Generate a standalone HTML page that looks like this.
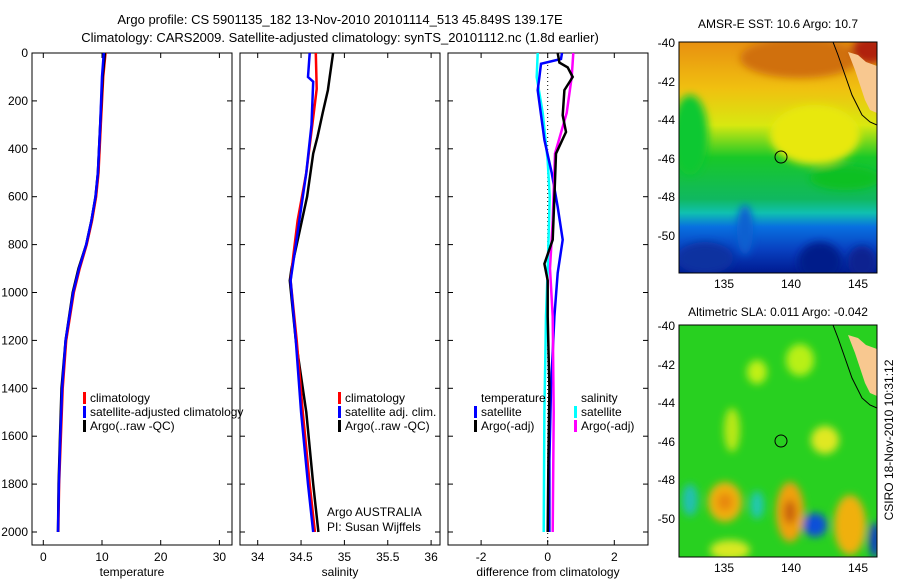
<!DOCTYPE html>
<html><head><meta charset="utf-8"><style>
body{margin:0;background:#fff;}
svg{display:block;font-family:"Liberation Sans",sans-serif;}
text{fill:#000;}
</style></head><body>
<svg id="c" width="900" height="580" viewBox="0 0 900 580">
<defs>
<linearGradient id="sstg" x1="0" y1="0" x2="0" y2="1">
<stop offset="0" stop-color="#e89010"/><stop offset="0.2" stop-color="#f0c010"/><stop offset="0.36" stop-color="#d8e810"/>
<stop offset="0.5" stop-color="#18c828"/><stop offset="0.68" stop-color="#10b860"/><stop offset="0.74" stop-color="#10c0b0"/>
<stop offset="0.8" stop-color="#0870e0"/><stop offset="0.9" stop-color="#0840c0"/><stop offset="1" stop-color="#001a90"/></linearGradient>
<filter id="bl"><feGaussianBlur stdDeviation="4"/></filter>
<clipPath id="m1"><rect x="679" y="42" width="198" height="231"/></clipPath>
<clipPath id="m2"><rect x="679" y="325" width="198" height="232"/></clipPath>
</defs>
<text x="340" y="24" font-size="13" text-anchor="middle">Argo profile: CS 5901135_182 13-Nov-2010 20101114_513 45.849S 139.17E</text>
<text x="340" y="42" font-size="13" text-anchor="middle">Climatology: CARS2009. Satellite-adjusted climatology: synTS_20101112.nc (1.8d earlier)</text>
<g id="plots"></g>
<g>
<text x="778" y="28" font-size="12" text-anchor="middle">AMSR-E SST: 10.6 Argo: 10.7</text>
<g clip-path="url(#m1)">
<rect x="679" y="42" width="198" height="231" fill="url(#sstg)"/>
<g filter="url(#bl)">
<ellipse cx="800" cy="58" rx="60" ry="20" fill="#d07008"/>
<ellipse cx="870" cy="50" rx="18" ry="14" fill="#b02008"/>
<ellipse cx="815" cy="135" rx="45" ry="30" fill="#e8e810"/>
<ellipse cx="690" cy="135" rx="18" ry="40" fill="#10c830"/>
<ellipse cx="845" cy="178" rx="35" ry="12" fill="#10c020"/>
<ellipse cx="745" cy="230" rx="8" ry="25" fill="#0a60d0"/>
<ellipse cx="820" cy="262" rx="22" ry="20" fill="#001a8a"/>
<ellipse cx="705" cy="258" rx="28" ry="16" fill="#0a30a0"/>
<ellipse cx="862" cy="262" rx="14" ry="16" fill="#0a2090"/>
</g>
<polygon points="848,52 858,55 866,62 877,66 877,113 870,110 865,100 860,85 855,70" fill="#f8c890"/>
<polyline points="833,42 838,55 845,75 852,95 862,115 870,122 877,125" fill="none" stroke="#000" stroke-width="1"/>
<circle cx="781" cy="157" r="6" fill="none" stroke="#000" stroke-width="1"/>
</g>
<rect x="679" y="42" width="198" height="231" fill="none" stroke="#000"/>
<g font-size="12" text-anchor="end">
<text x="675" y="47">-40</text><text x="675" y="86">-42</text><text x="675" y="124">-44</text><text x="675" y="163">-46</text><text x="675" y="201">-48</text><text x="675" y="240">-50</text>
</g>
<g font-size="12" text-anchor="middle"><text x="724" y="288">135</text><text x="791" y="288">140</text><text x="858" y="288">145</text></g>
</g>
<g>
<text x="778" y="316" font-size="12" text-anchor="middle">Altimetric SLA: 0.011 Argo: -0.042</text>
<g clip-path="url(#m2)">
<rect x="679" y="325" width="198" height="232" fill="#28d020"/>
<g filter="url(#bl)">
<ellipse cx="757" cy="372" rx="10" ry="12" fill="#c0f018"/>
<ellipse cx="800" cy="360" rx="14" ry="16" fill="#b8f018"/>
<ellipse cx="732" cy="430" rx="8" ry="22" fill="#b8e818"/>
<ellipse cx="825" cy="440" rx="14" ry="14" fill="#e0e820"/>
<ellipse cx="725" cy="502" rx="17" ry="20" fill="#f0b010"/>
<ellipse cx="725" cy="502" rx="8" ry="9" fill="#e88808"/>
<ellipse cx="790" cy="512" rx="14" ry="30" fill="#f0a010"/>
<ellipse cx="790" cy="512" rx="6" ry="12" fill="#c86008"/>
<ellipse cx="815" cy="525" rx="12" ry="12" fill="#0a50d8"/>
<ellipse cx="850" cy="525" rx="16" ry="30" fill="#f0b010"/>
<ellipse cx="690" cy="500" rx="8" ry="16" fill="#20c0b0"/>
<ellipse cx="757" cy="505" rx="7" ry="14" fill="#20c8b0"/>
<ellipse cx="875" cy="540" rx="6" ry="18" fill="#0a40c0"/>
<ellipse cx="730" cy="550" rx="20" ry="10" fill="#d8e820"/>
</g>
<polygon points="848,335 858,338 866,345 877,349 877,396 870,393 865,383 860,368 855,353" fill="#f8c890"/>
<polyline points="833,325 838,338 845,358 852,378 862,398 870,405 877,408" fill="none" stroke="#000" stroke-width="1"/>
<circle cx="781" cy="441" r="6" fill="none" stroke="#000" stroke-width="1"/>
</g>
<rect x="679" y="325" width="198" height="232" fill="none" stroke="#000"/>
<g font-size="12" text-anchor="end">
<text x="675" y="330">-40</text><text x="675" y="369">-42</text><text x="675" y="407">-44</text><text x="675" y="446">-46</text><text x="675" y="484">-48</text><text x="675" y="523">-50</text>
</g>
<g font-size="12" text-anchor="middle"><text x="724" y="572">135</text><text x="791" y="572">140</text><text x="858" y="572">145</text></g>
</g>
<text transform="translate(893,440) rotate(-90)" font-size="12" text-anchor="middle">CSIRO 18-Nov-2010 10:31:12</text>
</svg>
<script>
const tDepth = [0,100,300,500,600,700,800,900,1000,1200,1400,1600,1800,2000];
const tClim  = [10.6,10.2,9.8,9.4,9.0,8.3,7.4,6.2,5.2,3.9,3.3,3.0,2.7,2.55];
const tSat   = [10.3,10.0,9.7,9.3,8.9,8.2,7.3,6.1,5.1,3.8,3.2,2.9,2.65,2.5];
const tArgo  = [10.5,10.1,9.7,9.3,8.9,8.2,7.3,6.0,5.0,3.8,3.1,2.85,2.6,2.5];
const sClimD = [0,150,300,500,700,850,950,1200,1500,1800,2000];
const sClim  = [34.67,34.68,34.63,34.56,34.46,34.41,34.38,34.45,34.52,34.60,34.66];
const sArgoD = [0,100,155,250,350,420,600,800,900,950,1200,1500,1800,2000];
const sArgo  = [34.87,34.83,34.81,34.75,34.69,34.64,34.57,34.45,34.39,34.37,34.44,34.56,34.64,34.70];
const sSatD  = [0,100,120,300,500,700,850,950,1200,1500,1800,2000];
const sSat   = [34.60,34.58,34.64,34.62,34.56,34.48,34.42,34.38,34.44,34.50,34.58,34.64];
const dTSatD = [0,25,45,100,155,363,500,643,780,918,1100,1400,1700,2000];
const dTSat  = [0.43,0.4,-0.2,-0.25,-0.3,-0.1,0.12,0.3,0.45,0.3,0.2,0.1,0.05,0.05];
const dTArgoD= [0,40,60,100,155,260,330,420,600,780,880,950,1100,1400,1700,2000];
const dTArgo = [0.3,0.35,0.6,0.75,0.5,0.45,0.55,0.25,0.2,0.15,-0.1,0.0,0.0,0.05,0.02,0.0];
const dSArgoD= [0,100,250,420,700,900,1100,1500,2000];
const dSArgo = [0.77,0.72,0.57,0.22,0.15,0.07,0.15,0.18,0.15];
const dSSatD = [0,100,250,450,600,900,1100,1500,2000];
const dSSat  = [-0.3,-0.33,-0.15,0.0,0.06,0.0,-0.05,-0.1,-0.12];
const depthTicks = [0,200,400,600,800,1000,1200,1400,1600,1800,2000];
const tTicks = [0,10,20,30];
const sTicks = [34,34.5,35,35.5,36];
const sTickLabels = ["34","34.5","35","35.5","36"];
const dTicks = [-2,0,2];

const NS='http://www.w3.org/2000/svg';
const g=document.getElementById('plots');
const Y=d=>53+d*0.2395;
function el(t,a,p){const e=document.createElementNS(NS,t);for(const k in a)e.setAttribute(k,a[k]);(p||g).appendChild(e);return e;}
const panels=[
 {x:32,name:'temperature-panel',X:v=>43.3+v*5.87,ticks:tTicks,labels:tTicks.map(String),xl:'temperature'},
 {x:240,name:'salinity-panel',X:v=>257.7+(v-34)*86.7,ticks:sTicks,labels:sTickLabels,xl:'salinity'},
 {x:448,name:'difference-panel',X:v=>547.7+v*33.3,ticks:dTicks,labels:dTicks.map(String),xl:'difference from climatology'}
];
panels.forEach((p,i)=>{
 const r=el('rect',{x:p.x,y:53,width:200,height:492,fill:'none',stroke:'#000'});
 
 
 depthTicks.forEach(d=>{
  el('line',{x1:p.x,x2:p.x+5,y1:Y(d),y2:Y(d),stroke:'#000'});
  el('line',{x1:p.x+200,x2:p.x+195,y1:Y(d),y2:Y(d),stroke:'#000'});
  if(i===0){const t=el('text',{x:28,y:Y(d)+4,'font-size':12,'text-anchor':'end'});t.textContent=d;
   
   }
 });
 p.ticks.forEach((v,j)=>{
  const x=p.X(v);
  el('line',{x1:x,x2:x,y1:545,y2:540,stroke:'#000'});
  el('line',{x1:x,x2:x,y1:53,y2:58,stroke:'#000'});
  const t=el('text',{x:x,y:561,'font-size':12,'text-anchor':'middle'});t.textContent=p.labels[j];
  
  
 });
 const xl=el('text',{x:p.x+100,y:576,'font-size':12,'text-anchor':'middle'});xl.textContent=p.xl;
 
 
});
function line(p,ds,vs,col,name){
 const pts=ds.map((d,k)=>p.X(vs[k]).toFixed(1)+','+Y(d).toFixed(1)).join(' ');
 const e=el('polyline',{points:pts,fill:'none',stroke:col,'stroke-width':2.5});
 
 
}
const P=panels;
line(P[0],tDepth,tClim,'#f00','temp-climatology-line');
line(P[0],tDepth,tArgo,'#000','temp-argo-line');
line(P[0],tDepth,tSat,'#00f','temp-satellite-line');
line(P[1],sArgoD,sArgo,'#000','sal-argo-line');
line(P[1],sClimD,sClim,'#f00','sal-climatology-line');
line(P[1],sSatD,sSat,'#00f','sal-satellite-line');
const z=el('line',{x1:P[2].X(0),x2:P[2].X(0),y1:53,y2:545,stroke:'#000','stroke-dasharray':'1,3'});


line(P[2],dSSatD,dSSat,'#0ff','diff-sal-satellite-line');
line(P[2],dTSatD,dTSat,'#00f','diff-temp-satellite-line');
line(P[2],dSArgoD,dSArgo,'#f0f','diff-sal-argo-line');
line(P[2],dTArgoD,dTArgo,'#000','diff-temp-argo-line');
function leg(x,y,col,txt){
 if(col){el('rect',{x:x-7,y:y-10,width:3,height:12,fill:col});}
 const t=el('text',{x:x,y:y,'font-size':12});t.textContent=txt;
 
 
}
leg(90,402,'#f00','climatology');leg(90,416,'#00f','satellite-adjusted climatology');leg(90,430,'#000','Argo(..raw -QC)');
leg(345,402,'#f00','climatology');leg(345,416,'#00f','satellite adj. clim.');leg(345,430,'#000','Argo(..raw -QC)');
leg(481,402,null,'temperature');leg(481,416,'#00f','satellite');leg(481,430,'#000','Argo(-adj)');
leg(581,402,null,'salinity');leg(581,416,'#0ff','satellite');leg(581,430,'#f0f','Argo(-adj)');
leg(327,516,null,'Argo AUSTRALIA');leg(327,531,null,'PI: Susan Wijffels');
</script>
</body></html>
